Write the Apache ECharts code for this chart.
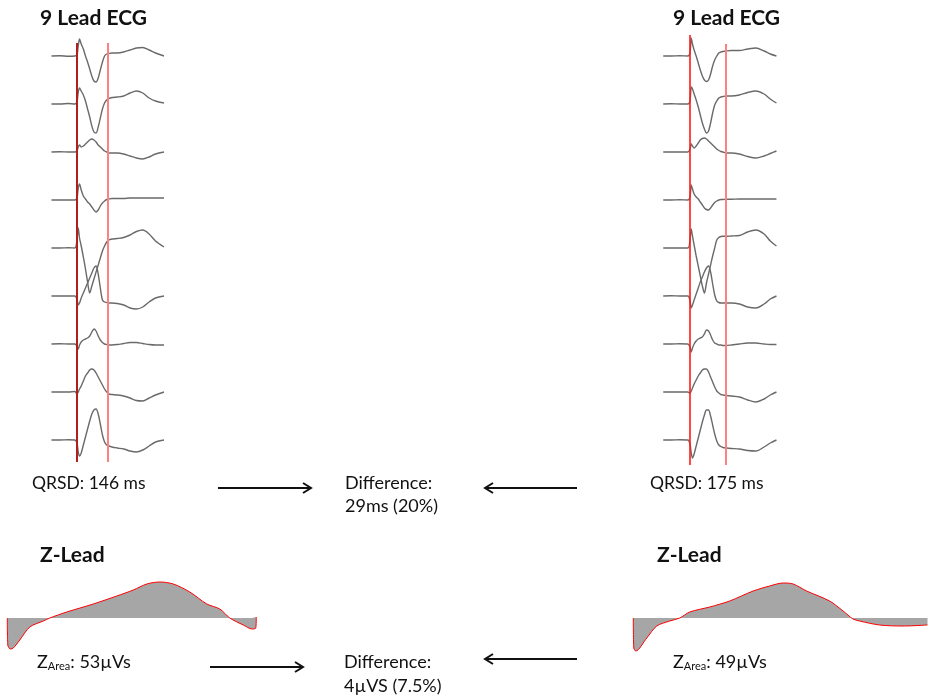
<!DOCTYPE html>
<html>
<head>
<meta charset="utf-8">
<title>9 Lead ECG / Z-Lead</title>
<script src="https://cdn.jsdelivr.net/npm/echarts@6/dist/echarts.min.js"></script>
<style>
  html, body { margin: 0; padding: 0; background: #fff; }
  #chart { width: 929px; height: 696px; }
</style>
</head>
<body>
<div id="chart"></div>
<script>
// sample times in ms, 0 = QRS onset
const timeLeft = [-120, -80, -40, -10, 0, 6, 12, 20, 30, 40, 50, 60, 70, 80, 90, 100, 110, 120, 130, 140, 150, 165, 190, 220, 250, 280, 310, 340, 370, 410];
const timeRight = [-130, -90, -50, -10, 0, 6, 12, 20, 30, 40, 50, 60, 70, 80, 90, 100, 110, 120, 130, 140, 150, 160, 175, 200, 240, 280, 320, 360, 390, 420];

// left recording, 9 leads (amplitude, arbitrary units)
const leftLead1 = [0, 0.3, -0.3, 0, 1, 10, 17, 12, 7, 0, -6, -13, -20, -25, -26, -22, -14, -6, 0, 2, 2.5, 3, 3, 4, 6, 8, 8.5, 6, 3, 0];
const leftLead2 = [0, 0, 0.5, 0, 2, 12, 16, 13, 9, 3, -5, -13, -22, -28, -29, -23, -14, -5, 1, 4, 5.5, 6.5, 7, 8, 11, 13, 11, 6, 3, 1];
const leftLead3 = [0, 0.3, 0, 0, 1, 5, 7, 5, 6, 8, 10, 12, 13, 12, 10, 7, 5, 3, 1, 0, -1, -1, -1, -2, -4, -6, -7, -5, -2, 0];
const leftLead4 = [0, 0, 0, 0, 2, 12, 16, 10, 4, 1, -2, -4, -7, -10, -12, -10, -6, -3, -1, 0.5, 1, 1.5, 1.5, 1.5, 2, 2, 2, 2, 2, 2];
const leftLead5 = [0, 0, 0.3, 0, 8, 20, 10, 2, -9, -21, -34, -45, -38, -31, -24, -17, -10, -3, 2, 6, 8, 9, 9.5, 10.5, 13, 16.5, 18, 14, 7, 1];
const leftLead6 = [0, 0, 0, 0, -3, -9, -7, -2, 3, 8, 13, 18, 23, 28, 30, 22, 8, -4, -6, -6.5, -7, -7, -7.5, -9, -12, -13, -11, -6, -2, 0];
const leftLead7 = [0, 0.3, 0, 0, -2, -5, -1, 2, 4, 5, 6, 8, 12, 15, 13, 8, 4, 1.5, 0, -0.5, -1, -1, -0.5, 0.5, 1.5, 1.5, 0.5, -0.5, -1, -1];
const leftLead8 = [0, 0, 0, 0.5, -2, 0, 3, 6, 11, 16, 19, 22, 23, 22, 19, 15, 11, 7, 3, 0, -2, -2.5, -3, -4, -6, -8.5, -9, -6, -3, 0];
const leftLead9 = [0, 0, 0.3, 0, -3, -12, -16, -13, -5, 3, 11, 19, 26, 30, 31, 26, 16, 5, -2, -5, -6, -7, -8, -9, -11, -12, -10, -6, -2, 0];

// right recording, 9 leads
const rightLead1 = [0, 0, 0.3, 0, 3, 18, 12, 6, 0, -7, -14, -20, -24, -25.5, -24, -18, -10, -4, 0, 3, 4, 4.5, 5, 5.5, 5.5, 7, 8, 5, 2, 0];
const rightLead2 = [0, 0.3, 0, 0, 3, 17, 15, 10, 4, -3, -11, -19, -25, -29, -27, -19, -9, -1, 3, 6, 7, 7.5, 8, 8, 9, 11.5, 13, 10, 5, 1];
const rightLead3 = [0, 0, 0, 0, 3, 8, 6, 4, 6, 9, 12, 13.5, 14, 13, 11, 9, 7, 5, 3, 1.5, 0.5, 0, -1, -1, -2, -4.5, -6, -4, -1.5, 1];
const rightLead4 = [0, 0, 0.3, 0, 3, 15, 11, 6, 3, 1, -2, -5, -8, -9.5, -10, -8, -5, -2.5, -1, 0, 0.5, 0.5, 0.7, 0.7, 1, 1, 1, 1, 1, 1];
const rightLead5 = [0, 0, 0, 0, 8, 19, 12, 3, -8, -18, -28, -38, -45, -35, -26, -17, -8, 0, 8, 10.5, 11.5, 11.7, 11.7, 12, 12.5, 16, 18, 14, 7, 2];
const rightLead6 = [0, 0.3, 0, 0, -5, -12, -9, -4, 2, 8, 14, 19, 24, 28, 30, 24, 12, 1, -5, -6.5, -7, -7, -7, -7, -8, -11, -12, -8, -3, 0];
const rightLead7 = [0, 0, 0.3, 0, -3, -8, -4, 0, 3, 5, 6, 7, 10, 14, 13, 9, 4, 1, 0, -1, -1, -1.5, -1.5, -1, 0, 1, 1, 0, -0.5, -0.5];
const rightLead8 = [0, 0, 0, 0, -1, 1, 4, 8, 12, 16, 19, 22, 23, 23, 20, 15, 10, 5, 1, -1, -2.5, -3, -3.5, -4, -5, -8, -10, -7, -3, 0];
const rightLead9 = [0, 0, 0.3, 0, -4, -13, -18, -14, -6, 2, 10, 18, 25, 30, 30, 24, 15, 6, -1, -5, -6.5, -7.5, -8, -8.5, -9, -10.5, -11, -7, -3, 0];

// Z lead
const zTimeLeft = [0, 1, 6, 12, 25, 45, 72, 85, 119, 172, 219, 252, 279, 305, 332, 365, 399, 425, 445, 472, 490, 497, 498];
const zLeft = [0, -27, -31, -30, -22, -9, -3, 0, 6, 14, 22, 28, 34, 36, 34, 26, 14, 9, 0, -7, -11, -10, 1];
const zTimeRight = [0, 1, 5, 27, 47, 73, 93, 113, 153, 193, 240, 273, 300, 320, 347, 393, 420, 440, 453, 493, 540, 589];
const zRight = [0, -30, -33, -20, -8, -3, 0, 6, 11, 17, 27, 32, 35, 34, 27, 17, 7, -1, -3, -7, -8, -7];

const qrsdLeft = 146;
const qrsdRight = 175;

const LEAD_GAP = 48;
const FONT = 'Lato, "Open Sans", sans-serif';

const leftLeads = [leftLead1, leftLead2, leftLead3, leftLead4, leftLead5, leftLead6, leftLead7, leftLead8, leftLead9];
const rightLeads = [rightLead1, rightLead2, rightLead3, rightLead4, rightLead5, rightLead6, rightLead7, rightLead8, rightLead9];

function ecgSeries(leads, times, idx) {
  return leads.map((lead, i) => ({
    type: 'line',
    xAxisIndex: idx,
    yAxisIndex: idx,
    data: lead.map((v, k) => [times[k], v - i * LEAD_GAP]),
    showSymbol: false,
    smooth: 0.3,
    clip: false,
    silent: true,
    z: 2,
    lineStyle: { color: '#6a6a6a', width: 1.4 }
  }));
}

function qrsLines(qrsd, onset, offset) {
  const line = (x, m) => [
    { coord: [x, m.top], lineStyle: { color: m.color, width: m.width, type: 'solid' } },
    { coord: [x, m.bottom] }
  ];
  return {
    silent: true,
    symbol: 'none',
    label: { show: false },
    z: 3,
    data: [line(0, onset), line(qrsd, offset)]
  };
}

const leftEcg = ecgSeries(leftLeads, timeLeft, 0);
leftEcg[0].markLine = qrsLines(qrsdLeft,
  { top: 13, bottom: -406, color: '#b0201a', width: 2 },
  { top: 13, bottom: -406, color: '#ff8080', width: 2 });

const rightEcg = ecgSeries(rightLeads, timeRight, 1);
rightEcg[0].markLine = qrsLines(qrsdRight,
  { top: 21, bottom: -409, color: '#ff1a1a', width: 1.6 },
  { top: 12, bottom: -409, color: '#ff8080', width: 2 });

function zSeries(times, vals, idx) {
  return {
    type: 'line',
    xAxisIndex: idx,
    yAxisIndex: idx,
    data: vals.map((v, k) => [times[k], v]),
    showSymbol: false,
    smooth: 0.3,
    silent: true,
    lineStyle: { color: '#ff0000', width: 1 },
    areaStyle: { color: '#a6a6a6', opacity: 1, origin: 0 }
  };
}

function label(text, x, y, size, bold) {
  return {
    type: 'text',
    x: x, y: y,
    style: {
      text: text,
      font: (bold ? 'bold ' : '') + size + 'px ' + FONT,
      fill: '#111',
      textVerticalAlign: 'middle'
    }
  };
}

function arrow(x1, x2, y) {
  const dir = x2 > x1 ? 1 : -1;
  return {
    type: 'group',
    children: [
      { type: 'line', shape: { x1: x1, y1: y, x2: x2, y2: y }, style: { stroke: '#111', lineWidth: 2 } },
      { type: 'polyline', shape: { points: [[x2 - dir * 8, y - 5], [x2, y], [x2 - dir * 8, y + 5]] },
        style: { stroke: '#111', lineWidth: 2, fill: null } }
    ]
  };
}

function zAreaLabel(value, x, y) {
  return {
    type: 'text',
    x: x, y: y,
    style: {
      text: '{m|Z}{s|Area}{m|: ' + value + '}',
      textVerticalAlign: 'middle',
      fill: '#111',
      rich: {
        m: { fontSize: 18, fontFamily: FONT, lineHeight: 20, fill: '#111' },
        s: { fontSize: 11, fontFamily: FONT, lineHeight: 11, verticalAlign: 'bottom', fill: '#111' }
      }
    }
  };
}

const chart = echarts.init(document.getElementById('chart'), null, { renderer: 'canvas' });

chart.setOption({
  animation: false,
  backgroundColor: '#fff',
  grid: [
    { left: 51.5, top: 30, width: 112.5, height: 440 },
    { left: 663.25, top: 30, width: 113.2, height: 440 },
    { left: 7.3, top: 572, width: 250, height: 90 },
    { left: 633.3, top: 572, width: 296, height: 90 }
  ],
  xAxis: [
    { type: 'value', gridIndex: 0, min: -120, max: 410, show: false },
    { type: 'value', gridIndex: 1, min: -130, max: 420, show: false },
    { type: 'value', gridIndex: 2, min: 0, max: 500, show: false },
    { type: 'value', gridIndex: 3, min: 0, max: 592, show: false }
  ],
  yAxis: [
    { type: 'value', gridIndex: 0, min: -414, max: 26, show: false },
    { type: 'value', gridIndex: 1, min: -414, max: 26, show: false },
    { type: 'value', gridIndex: 2, min: -44, max: 46, show: false },
    { type: 'value', gridIndex: 3, min: -44, max: 46, show: false }
  ],
  series: [
    ...leftEcg,
    ...rightEcg,
    zSeries(zTimeLeft, zLeft, 2),
    zSeries(zTimeRight, zRight, 3)
  ],
  graphic: [
    label('9 Lead ECG', 40, 18, 21, true),
    label('9 Lead ECG', 673, 18, 21, true),
    label('QRSD: ' + qrsdLeft + ' ms', 32, 483, 17.5, false),
    label('QRSD: ' + qrsdRight + ' ms', 650, 483, 17.5, false),
    label('Difference:', 345, 483, 18, false),
    label((qrsdRight - qrsdLeft) + 'ms (20%)', 345, 506, 18, false),
    arrow(218, 311, 488),
    arrow(577, 485, 488),
    label('Z-Lead', 40, 555, 21, true),
    label('Z-Lead', 657, 555, 21, true),
    zAreaLabel('53µVs', 37, 662),
    zAreaLabel('49µVs', 673, 662),
    arrow(210, 303, 667),
    arrow(577, 485, 659),
    label('Difference:', 344, 662, 18, false),
    label('4µVS (7.5%)', 344, 686, 18, false)
  ]
});
</script>
</body>
</html>
